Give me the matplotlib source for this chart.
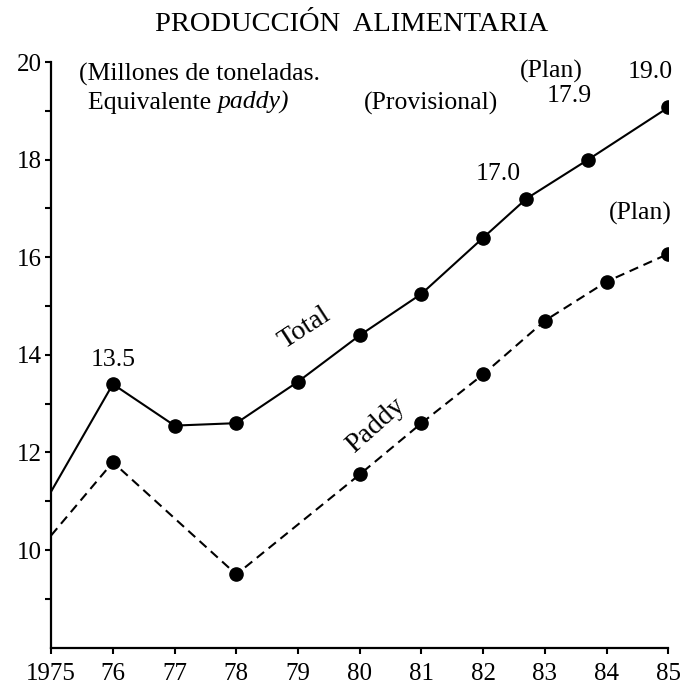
import matplotlib
matplotlib.use("Agg")
import matplotlib.pyplot as plt

# datos
years_total = [1975, 1976, 1977, 1978, 1979, 1980, 1981, 1982, 1982.7, 1983.7, 1985]
total = [11.2, 13.4, 12.55, 12.6, 13.45, 14.4, 15.25, 16.4, 17.2, 18.0, 19.07]
years_paddy = [1975, 1976, 1978, 1980, 1981, 1982, 1983, 1984, 1985]
paddy = [10.3, 11.8, 9.5, 11.55, 12.6, 13.6, 14.7, 15.5, 16.07]
xticks = [1975, 1976, 1977, 1978, 1979, 1980, 1981, 1982, 1983, 1984, 1985]
xlabels = ["1975", "76", "77", "78", "79", "80", "81", "82", "83", "84", "85"]

plt.rcParams['font.family'] = ['Liberation Serif', 'DejaVu Serif']

fig = plt.figure(figsize=(6.82, 6.89), dpi=100)
ax = fig.add_axes([0.075, 0.06, 0.905, 0.85])

# lineas (sin marcador en 1975)
ax.plot(years_total, total, color="black", lw=1.5, zorder=2)
ax.plot(years_total[1:], total[1:], "o", color="black", ms=9.5, zorder=3)
ax.plot(years_paddy, paddy, color="black", lw=1.5, dashes=(4.5, 2.8), zorder=2)
ax.plot(years_paddy[1:], paddy[1:], "o", color="black", ms=9.5, zorder=3)

ax.set_xlim(1975, 1985)
ax.set_ylim(8, 20)
ax.set_xticks(xticks)
ax.set_xticklabels(xlabels)
ax.set_yticks([10, 12, 14, 16, 18, 20])
ax.set_yticks([9, 11, 13, 15, 17, 19], minor=True)
ax.tick_params(axis="both", which="both", direction="out", length=4, width=1.5, labelsize=18, pad=3)
ax.tick_params(axis="x", pad=7)
for s in ["top", "right"]:
    ax.spines[s].set_visible(False)
for s in ["left", "bottom"]:
    ax.spines[s].set_linewidth(1.6)
ax.spines["bottom"].set_zorder(5)

fig.text(0.515, 0.965, "PRODUCCIÓN  ALIMENTARIA", ha="center", va="center", fontsize=20.5)

# anotaciones
fs = 18.5
ax.text(1976, 13.9, "13.5", ha="center", va="center", fontsize=fs)
ax.text(1982.25, 17.7, "17.0", ha="center", va="center", fontsize=fs)
ax.text(1983.4, 19.3, "17.9", ha="center", va="center", fontsize=fs)
ax.text(1984.7, 19.8, "19.0", ha="center", va="center", fontsize=fs)
ax.text(1983.1, 19.8, "(Plan)", ha="center", va="center", fontsize=fs)
ax.text(1984.55, 16.9, "(Plan)", ha="center", va="center", fontsize=fs)
ax.text(1981.15, 19.15, "(Provisional)", ha="center", va="center", fontsize=fs)
ax.text(1979.1, 14.55, "Total", ha="center", va="center", fontsize=20, rotation=33)
ax.text(1980.25, 12.55, "Paddy", ha="center", va="center", fontsize=20, rotation=42)

ax.text(1975.45, 19.75, "(Millones de toneladas.", ha="left", va="center", fontsize=fs)
t1 = ax.text(1975.6, 19.15, "Equivalente ", ha="left", va="center", fontsize=fs)
ax.annotate("paddy)", xy=(1, 0), xycoords=t1, ha="left", va="bottom", fontsize=fs, style="italic")

fig.savefig("out.png", dpi=100)
